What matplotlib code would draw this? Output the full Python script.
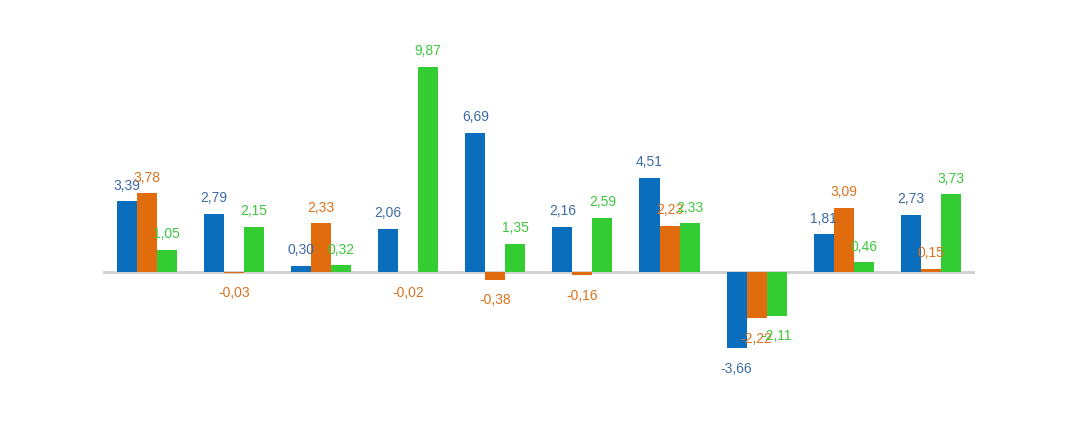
import numpy as np
import matplotlib.pyplot as plt

blue_vals = [3.39, 2.79, 0.30, 2.06, 6.69, 2.16, 4.51, -3.66, 1.81, 2.73]
orange_vals = [3.78, -0.03, 2.33, -0.02, -0.38, -0.16, 2.23, -2.22, 3.09, 0.15]
green_vals = [1.05, 2.15, 0.32, 9.87, 1.35, 2.59, 2.33, -2.11, 0.46, 3.73]

bar_colors = ["#0a6ebd", "#e06c0e", "#33cc33"]
label_colors = ["#3d6aa6", "#d9731f", "#3cc83c"]

fig = plt.figure(figsize=(10.8, 4.27), dpi=100)
ax = fig.add_axes([0.0954, 0.117, 0.807, 0.780])

x = np.arange(len(blue_vals))
w = 0.23
series = [blue_vals, orange_vals, green_vals]
for i, vals in enumerate(series):
    pos = x + (i - 1) * w
    ax.bar(pos, vals, width=w, color=bar_colors[i], zorder=2)
    for px, v in zip(pos, vals):
        txt = f"{v:.2f}".replace(".", ",")
        off = 7 if v >= 0 else -9
        ax.annotate(txt, (px, v), xytext=(0, off), textcoords="offset points",
                    ha="center", va="bottom" if v >= 0 else "top",
                    color=label_colors[i], fontsize=10, family="Liberation Sans",
                    zorder=3)

ax.axhline(0, color="#d0d0d0", lw=2, zorder=1)
ax.set_xlim(-0.5, 9.5)
ax.set_ylim(-5, 11)
ax.axis("off")

fig.savefig("out.png", dpi=100, facecolor="white")
